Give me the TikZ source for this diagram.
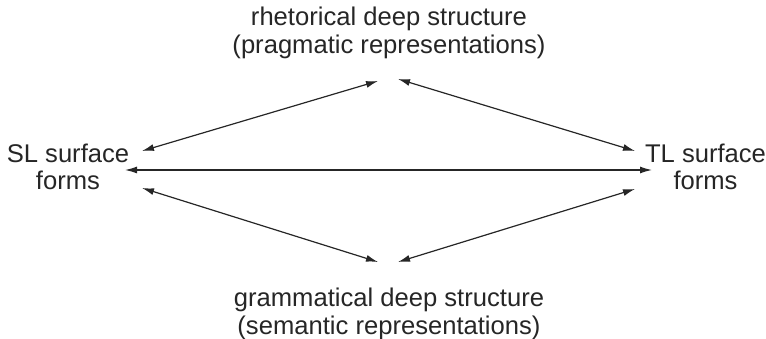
\documentclass[tikz,border=0pt]{standalone}
\usepackage{fontspec}
\setmainfont{Liberation Sans}
\usetikzlibrary{arrows.meta}
\begin{document}
\begin{tikzpicture}[x=1pt,y=-1pt,
  lbl/.style={align=center,inner sep=0pt,font=\fontsize{25.6}{27.5}\selectfont,text=black!85},
  arr/.style={{Latex[length=12pt,width=7pt]}-{Latex[length=12pt,width=7pt]},line width=1.2pt,black!85}]
\useasboundingbox (0,0) rectangle (766,339);
\node[lbl] (top) at (389,33) {rhetorical deep structure\\(pragmatic representations)};
\node[lbl] (bot) at (389,314) {grammatical deep structure\\(semantic representations)};
\node[lbl] (sl) at (68,167) {SL surface\\forms};
\node[lbl] (tl) at (705.5,167) {TL surface\\forms};
\coordinate (tA) at (378,81);
\coordinate (tB) at (398,79);
\coordinate (bA) at (378,262);
\coordinate (bB) at (398,262);
\coordinate (slU) at (142,151);
\coordinate (slM) at (125,170);
\coordinate (slD) at (142,188);
\coordinate (tlU) at (635,151);
\coordinate (tlM) at (652,170);
\coordinate (tlD) at (635,189);
\draw[arr] (slU) -- (tA);
\draw[arr] (tB) -- (tlU);
\draw[arr] (slM) -- (tlM);
\draw[arr] (slD) -- (bA);
\draw[arr] (bB) -- (tlD);
\end{tikzpicture}
\end{document}
